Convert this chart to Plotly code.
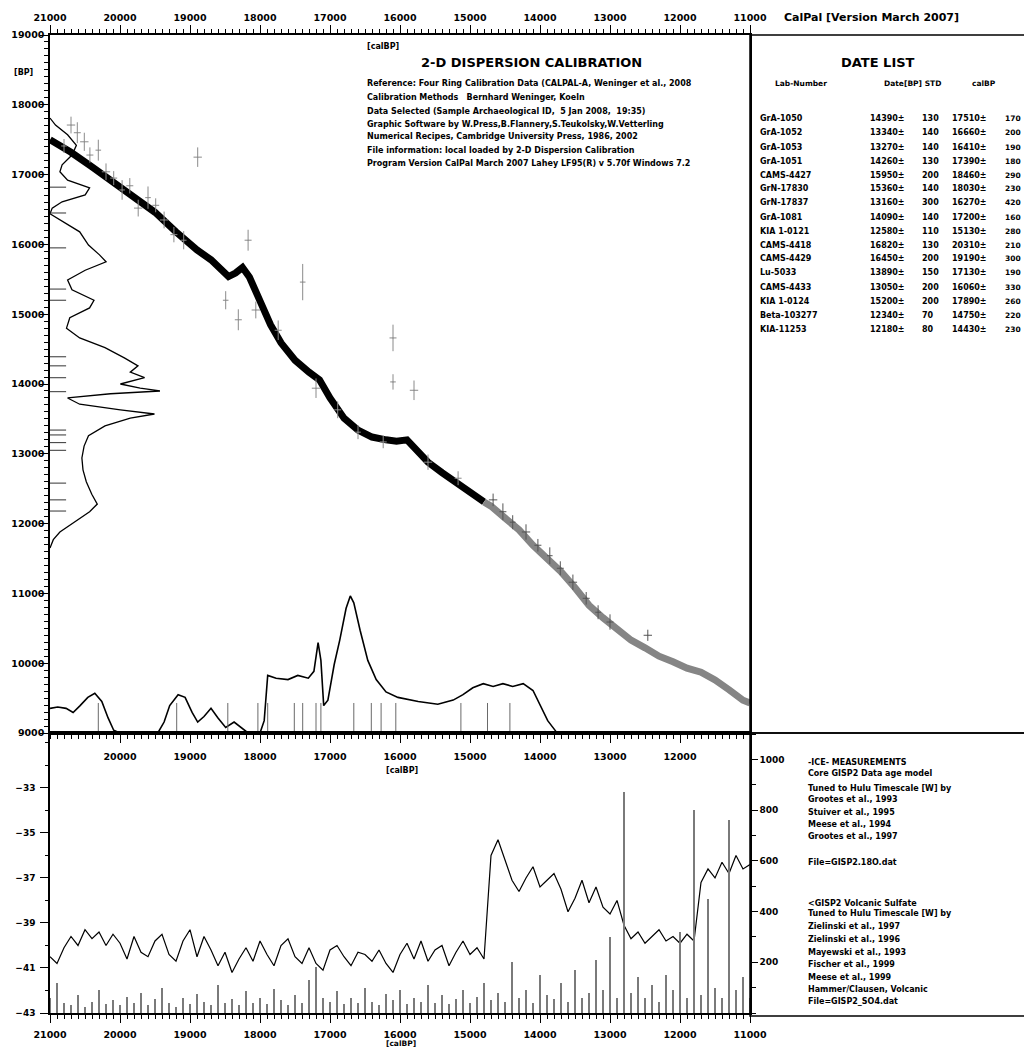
import plotly.graph_objects as go

# ---------------- DATA ----------------
# calibration curve (calBP -> 14C BP)
curve_cal_black = [21000, 20700, 20400, 20100, 19800, 19500, 19200, 18900, 18700, 18550, 18450,
                   18350, 18250, 18150, 18000, 17850, 17700, 17500, 17300, 17150, 17000, 16800,
                   16600, 16400, 16200, 16050, 15900, 15750, 15600, 15400, 15200, 15000, 14800]
curve_bp_black = [17500, 17320, 17110, 16890, 16680, 16460, 16180, 15920, 15780, 15640, 15540,
                  15590, 15670, 15530, 15200, 14850, 14590, 14340, 14170, 14060, 13800, 13510,
                  13340, 13240, 13200, 13180, 13200, 13050, 12880, 12730, 12600, 12450, 12310]
curve_cal_gray = [14800, 14700, 14500, 14300, 14100, 13900, 13700, 13500, 13300, 13100, 12900,
                  12700, 12500, 12300, 12100, 11900, 11700, 11500, 11300, 11100, 11000]
curve_bp_gray = [12310, 12250, 12080, 11910, 11690, 11510, 11310, 11080, 10830, 10650, 10480,
                 10330, 10220, 10100, 10020, 9930, 9870, 9760, 9620, 9470, 9430]

# calibration data points (crosses)
pt_cal = [20700, 20610, 20800, 20510, 20430, 20310, 20200, 20090, 19970, 19860,
          19740, 19600, 19490, 19370, 19230, 19090, 18890, 18170, 18490, 18310,
          18060, 17740, 17390, 17200, 16100, 16100, 15800, 16890, 16600, 16240,
          15600, 15170, 14670, 14530, 14390, 14200, 14030, 13860, 13710, 13530,
          13340, 13170, 13000, 12460]
pt_bp = [17710, 17600, 17410, 17470, 17280, 17350, 17040, 16950, 16780, 16840,
         16520, 16670, 16560, 16350, 16140, 16060, 17250, 16060, 15200, 14920,
         15060, 14770, 15460, 13940, 14660, 14030, 13910, 13630, 13310, 13170,
         12880, 12650, 12340, 12170, 12020, 11880, 11690, 11540, 11360, 11160,
         10930, 10730, 10590, 10400]
pt_bp_err = [120, 150, 100, 130, 110, 150, 120, 100, 140, 110,
             120, 160, 100, 120, 110, 130, 140, 150, 130, 150,
             120, 140, 260, 140, 190, 110, 140, 120, 100, 90,
             110, 100, 90, 120, 100, 110, 90, 120, 100, 110,
             90, 100, 110, 80]
pt_cal_err = [60, 50, 40, 60, 50, 40, 60, 50, 40, 50,
              60, 40, 50, 60, 50, 40, 60, 50, 40, 50,
              60, 50, 40, 60, 50, 40, 60, 50, 40, 50,
              60, 50, 60, 50, 40, 60, 50, 40, 50, 60,
              50, 40, 50, 60]

# 14C probability density (left, vertical)
dens_bp = [17810, 17710, 17570, 17420, 17280, 17140, 17040, 16920, 16810, 16710,
           16610, 16520, 16440, 16320, 16180, 15990, 15850, 15750, 15630, 15490,
           15350, 15200, 15090, 14950, 14800, 14660, 14520, 14370, 14260, 14170,
           14090, 14000, 13940, 13900, 13860, 13800, 13710, 13630, 13570, 13510,
           13400, 13260, 13110, 12940, 12770, 12600, 12420, 12280, 12170, 12020,
           11880, 11770, 11650]
dens_val = [0, .05, .16, .24, .20, .11, .09, .16, .36, .32,
            .11, .02, 0, .13, .27, .35, .45, .51, .32, .16,
            .20, .40, .36, .18, .15, .27, .50, .68, .80, .73,
            .86, .64, .82, 1.0, .55, .16, .27, .64, .95, .73,
            .50, .35, .31, .29, .30, .33, .38, .43, .36, .22,
            .09, .03, 0]

# calibrated (calBP) summed probability (bottom)
dist_cal = [21000, 20890, 20770, 20670, 20570, 20460, 20360, 20260, 20170, 20090,
            20000, 19460, 19370, 19290, 19170, 19070, 18970, 18890, 18800, 18700,
            18600, 18490, 18370, 18290, 18170, 18000, 17940, 17890, 17770, 17600,
            17460, 17310, 17230, 17170, 17130, 17090, 17030, 16940, 16860, 16770,
            16710, 16660, 16570, 16460, 16340, 16200, 16030, 15740, 15460, 15240,
            15100, 14960, 14810, 14670, 14530, 14390, 14240, 14100, 14000, 13890,
            13770, 13670]
dist_p = [.18, .19, .18, .15, .20, .26, .29, .23, .11, .02,
          0, 0, .08, .20, .28, .26, .15, .08, .12, .18,
          .11, .04, .08, .05, 0, 0, .09, .42, .40, .39,
          .42, .40, .45, .66, .53, .20, .24, .50, .68, .91,
          1.0, .95, .75, .53, .39, .30, .26, .23, .21, .24,
          .28, .33, .36, .34, .36, .34, .36, .31, .20, .09,
          .01, 0]

# date list
lab_numbers = ["GrA-1050", "GrA-1052", "GrA-1053", "GrA-1051", "CAMS-4427", "GrN-17830",
               "GrN-17837", "GrA-1081", "KIA 1-0121", "CAMS-4418", "CAMS-4429", "Lu-5033",
               "CAMS-4433", "KIA 1-0124", "Beta-103277", "KIA-11253"]
date_bp = [14390, 13340, 13270, 14260, 15950, 15360, 13160, 14090, 12580, 16820, 16450,
           13890, 13050, 15200, 12340, 12180]
date_std = [130, 140, 140, 130, 200, 140, 300, 140, 110, 130, 200, 150, 200, 200, 70, 80]
date_cal = [17510, 16660, 16410, 17390, 18460, 18030, 16270, 17200, 15130, 20310, 19190,
            17130, 16060, 17890, 14750, 14430]
date_calstd = [170, 200, 190, 180, 290, 230, 420, 160, 280, 210, 300, 190, 330, 260, 220, 230]

# GISP2 d18O (lower panel) on a 100-year grid, 21000 -> 11000 calBP
gisp_t = list(range(21000, 10999, -100))
d18o = [-40.5, -40.8, -40.1, -39.6, -40.0, -39.3, -39.7, -39.4, -40.0, -39.5,
        -39.9, -40.6, -39.6, -40.3, -40.5, -39.8, -39.5, -40.4, -40.7, -39.8,
        -39.3, -40.5, -39.6, -40.2, -40.9, -40.3, -41.2, -40.6, -40.1, -40.7,
        -39.8, -40.4, -40.9, -40.0, -39.7, -40.5, -40.8, -40.1, -40.8, -41.1,
        -40.2, -40.0, -40.5, -40.9, -40.3, -40.4, -40.7, -40.2, -40.8, -41.2,
        -40.4, -39.9, -40.6, -39.8, -40.7, -40.2, -40.0, -40.9, -40.3, -39.8,
        -40.4, -40.1, -40.6, -36.0, -35.3, -36.2, -37.1, -37.6, -37.0, -36.5,
        -37.4, -37.1, -36.8, -37.5, -38.5, -37.9, -37.1, -38.1, -37.4, -38.3,
        -38.6, -38.0, -39.1, -39.7, -39.4, -39.9, -39.6, -39.3, -39.8, -39.6,
        -39.9, -39.5, -39.8, -37.2, -36.6, -37.0, -36.3, -36.8, -36.0, -36.6,
        -36.4]
# GISP2 volcanic sulfate (same grid)
sulfate = [60, 120, 40, 30, 70, 25, 45, 90, 35, 50,
           30, 65, 40, 80, 30, 55, 100, 40, 25, 60,
           35, 75, 45, 30, 110, 40, 55, 30, 85, 40,
           60, 35, 95, 50, 30, 70, 40, 130, 180, 60,
           45, 85, 35, 60, 40, 100, 45, 30, 75, 50,
           90, 35, 60, 45, 110, 40, 70, 35, 55, 90,
           40, 65, 120, 50, 80, 45, 200, 60, 90, 40,
           150, 70, 55, 120, 45, 170, 60, 80, 210, 90,
           300, 60, 870, 80, 140, 60, 110, 45, 150, 90,
           320, 60, 800, 70, 450, 100, 60, 760, 90, 140,
           60]

main_x_labels = [20000, 19000, 18000, 17000, 16000, 15000, 14000, 13000, 12000]
low_y_ticks = [-43, -41, -39, -37, -35, -33]
right_y_ticks = [200, 400, 600, 800, 1000]

info_lines = [
    "Reference: Four Ring Calibration Data (CALPAL-A, Weninger et al., 2008",
    "Calibration Methods   Bernhard Weninger, Koeln",
    "Data Selected (Sample Archaeological ID,  5 Jan 2008,  19:35)",
    "Graphic Software by W.Press,B.Flannery,S.Teukolsky,W.Vetterling",
    "Numerical Recipes, Cambridge University Press, 1986, 2002",
    "File information: local loaded by 2-D Dispersion Calibration",
    "Program Version CalPal March 2007 Lahey LF95(R) v 5.70f Windows 7.2",
]
lower_notes = [
    "-ICE- MEASUREMENTS", "Core GISP2 Data age model", "Tuned to Hulu Timescale [W] by",
    "Grootes et al., 1993", "Stuiver et al., 1995", "Meese et al., 1994", "Grootes et al., 1997",
    "File=GISP2.18O.dat", "<GISP2 Volcanic Sulfate", "Tuned to Hulu Timescale [W] by",
    "Zielinski et al., 1997", "Zielinski et al., 1996", "Mayewski et al., 1993",
    "Fischer et al., 1999", "Meese et al., 1999", "Hammer/Clausen, Volcanic", "File=GISP2_SO4.dat",
]

# ---------------- LAYOUT HELPERS ----------------
OFF = 8                      # page body margin
W, H = 1032 - OFF, 1049 - OFF
FONT = "DejaVu Sans"


def px(x):
    return (x - OFF) / W


def py(y):
    return 1 - (y - OFF) / H


X_DOM = [px(50), px(750)]
MAIN_Y = [py(733), py(35)]
LOW_Y = [py(1013), py(733)]
DENS_SCALE = 1571      # calBP years for full density width
DIST_SCALE = 1963      # BP years for full cal-prob height

fig = go.Figure()

# calibration curve
fig.add_trace(go.Scatter(x=curve_cal_black, y=curve_bp_black, mode="lines",
                         line=dict(color="black", width=7), xaxis="x", yaxis="y"))
fig.add_trace(go.Scatter(x=curve_cal_gray, y=curve_bp_gray, mode="lines",
                         line=dict(color="#858585", width=7), xaxis="x", yaxis="y"))

# crosses
col = ["#555555" if c < 14900 else "#8a8a8a" for c in pt_cal]
for grp_color in ["#8a8a8a", "#555555"]:
    idx = [i for i, c in enumerate(col) if c == grp_color]
    fig.add_trace(go.Scatter(
        x=[pt_cal[i] for i in idx], y=[pt_bp[i] for i in idx], mode="markers",
        marker=dict(size=1, color=grp_color),
        error_y=dict(type="data", array=[pt_bp_err[i] for i in idx], color=grp_color,
                     thickness=1, width=0),
        error_x=dict(type="data", array=[pt_cal_err[i] for i in idx], color=grp_color,
                     thickness=1, width=0),
        xaxis="x", yaxis="y"))

# 14C density on the left
fig.add_trace(go.Scatter(x=[21000 - v * DENS_SCALE for v in dens_val], y=dens_bp, mode="lines",
                         line=dict(color="black", width=1.3), xaxis="x", yaxis="y"))

# calibrated distribution at bottom
fig.add_trace(go.Scatter(x=dist_cal, y=[9000 + p * DIST_SCALE for p in dist_p], mode="lines",
                         line=dict(color="black", width=1.6), xaxis="x", yaxis="y"))

# date markers on the y axis (horizontal dashes)
hx, hy = [], []
for b in date_bp:
    hx += [21000, 20770, None]
    hy += [b, b, None]
fig.add_trace(go.Scatter(x=hx, y=hy, mode="lines", line=dict(color="#333333", width=1),
                         xaxis="x", yaxis="y"))
# date markers on the x axis (vertical lines)
vx, vy = [], []
for c in date_cal:
    vx += [c, c, None]
    vy += [9000, 9430, None]
fig.add_trace(go.Scatter(x=vx, y=vy, mode="lines", line=dict(color="#6a6a6a", width=1),
                         xaxis="x", yaxis="y"))

# dummy for top axis
fig.add_trace(go.Scatter(x=[21000], y=[9000], mode="markers", marker=dict(opacity=0),
                         xaxis="x2", yaxis="y", hoverinfo="skip"))

# lower panel
fig.add_trace(go.Bar(x=gisp_t, y=sulfate, width=35, marker=dict(color="#7a7a7a", line_width=0),
                     xaxis="x3", yaxis="y4"))
fig.add_trace(go.Scatter(x=gisp_t, y=d18o, mode="lines", line=dict(color="black", width=1.2),
                         xaxis="x3", yaxis="y3"))

tickfont = dict(family=FONT, size=9.5, color="black", weight="bold")
common_x = dict(domain=X_DOM, range=[21000, 11000], ticks="outside",
                ticklen=8, tickwidth=1.2, tickcolor="black", showline=True, linecolor="black",
                linewidth=1.5, showgrid=False, zeroline=False, tickfont=tickfont,
                tickformat="d", automargin=False,
                minor=dict(dtick=100, tick0=11000, ticklen=4, ticks="outside",
                           tickcolor="black", showgrid=False))

fig.update_layout(
    width=W, height=H, margin=dict(l=0, r=0, t=0, b=0, pad=0, autoexpand=False),
    paper_bgcolor="white", plot_bgcolor="white", showlegend=False,
    xaxis=dict(**common_x, anchor="y", side="bottom", tickvals=main_x_labels,
               ticklabelstandoff=6),
    xaxis2=dict(**common_x, anchor="y", side="top", overlaying="x", matches="x",
                dtick=1000, tick0=11000, ticklabelstandoff=0),
    yaxis=dict(domain=MAIN_Y, range=[9000, 19000], dtick=1000, tick0=9000, ticks="outside",
               ticklen=8, tickwidth=1.2, tickcolor="black", showline=True, mirror=True,
               linecolor="black", linewidth=1.5, showgrid=False, zeroline=False,
               tickfont=tickfont, tickformat="d", anchor="x", automargin=False,
               ticklabelstandoff=-6,
               minor=dict(dtick=100, tick0=9000, ticklen=4, ticks="outside", tickcolor="black",
                          showgrid=False)),
    xaxis3=dict(**common_x, anchor="y3", side="bottom", mirror=True, dtick=1000, tick0=11000,
                ticklabelstandoff=4),
    yaxis3=dict(domain=LOW_Y, range=[-43, -30.56], tickvals=low_y_ticks, ticks="outside",
                ticklen=8, tickwidth=1.2, tickcolor="black", showline=True, linecolor="black",
                linewidth=1.5, showgrid=False, zeroline=False, anchor="x3", automargin=False,
                tickfont=dict(family=FONT, size=9, color="black", weight="bold"),
                ticklabelstandoff=3,
                minor=dict(dtick=1, tick0=-43, ticklen=3, ticks="outside", tickcolor="black",
                           showgrid=False)),
    yaxis4=dict(domain=LOW_Y, range=[0, 1104], overlaying="y3", side="right", anchor="x3",
                tickvals=right_y_ticks, ticks="outside", ticklen=6, automargin=False,
                tickcolor="black", showline=True, linecolor="black", linewidth=1.5,
                showgrid=False, zeroline=False,
                tickfont=dict(family=FONT, size=9, color="black", weight="bold"),
                minor=dict(dtick=100, tick0=0, ticklen=4, ticks="outside", tickcolor="black")),
    bargap=0,
)

# boxes on the right
fig.add_shape(type="rect", xref="paper", yref="paper", x0=px(750), x1=px(1029), y0=py(733),
              y1=py(35), line=dict(color="black", width=1.5))
fig.add_shape(type="rect", xref="paper", yref="paper", x0=px(750), x1=px(1029), y0=py(1016),
              y1=py(733), line=dict(color="black", width=1.5))


def txt(x, y, s, size=8, anchor="left"):
    fig.add_annotation(x=px(x), y=py(y), xref="paper", yref="paper", text=s, showarrow=False,
                       xanchor=anchor, yanchor="middle",
                       font=dict(family=FONT, size=size, color="black", weight="bold"))


txt(782, 18, "CalPal [Version March 2007]", 11)
txt(12, 73, "[BP]", 8)
txt(365, 47, "[calBP]", 8)
txt(531, 62, "2-D DISPERSION CALIBRATION", 13, "center")
for s, yy in zip(info_lines, [84, 97, 111, 124, 137, 150, 163]):
    txt(365, yy, s, 8)
txt(384, 770, "[calBP]", 8)
txt(384, 1043, "[calBP]", 7.5)

txt(878, 63, "DATE LIST", 13, "center")
txt(773, 84, "Lab-Number", 7.5)
txt(882, 84, "Date[BP] STD", 7.5)
txt(970, 84, "calBP", 7.5)
for i in range(len(lab_numbers)):
    yy = 119 + 14 * i
    txt(758, yy, lab_numbers[i], 8)
    txt(868, yy, f"{date_bp[i]}±", 8)
    txt(920, yy, f"{date_std[i]}", 8)
    txt(950, yy, f"{date_cal[i]}±", 8)
    txt(1003, yy, f"{date_calstd[i]}", 7.5)

for s, yy in zip(lower_notes, [762, 773, 788, 799, 812, 824, 836, 862, 903, 913, 926, 939,
                               952, 964, 977, 989, 1001]):
    txt(806, yy, s, 8)

fig.write_html("out.html")
